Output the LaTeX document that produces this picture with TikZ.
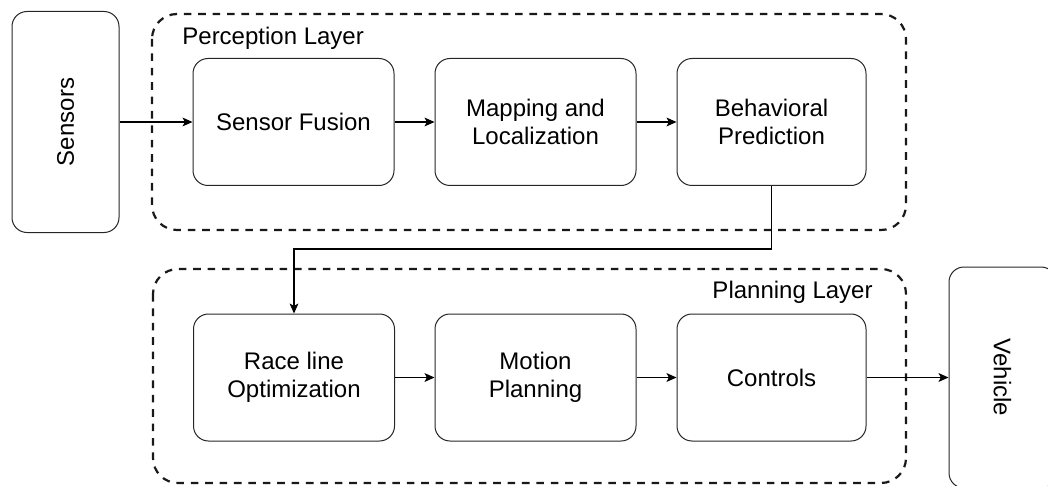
\documentclass[tikz,border=0pt]{standalone}
\usepackage{fontspec}
\setmainfont{Liberation Sans}
\usetikzlibrary{arrows.meta}

\begin{document}
\begin{tikzpicture}[x=0.5pt, y=-0.5pt,
        font=\fontsize{12}{14}\selectfont,
        blk/.style={draw=black!85, line width=0.5pt, rounded corners=7.5pt, align=center,
                    minimum width=100.5pt, minimum height=63.5pt, inner sep=0pt},
        side/.style={draw=black!85, line width=0.5pt, rounded corners=7.5pt,
                     minimum width=110.5pt, minimum height=53.5pt, inner sep=0pt},
        layer/.style={draw=black!90, line width=1.1pt, dash pattern=on 3.8pt off 3.4pt, rounded corners=12.5pt},
        lbl/.style={draw=none, fill=none, inner sep=0pt},
        arr/.style={line width=0.6pt, -{Stealth[length=5pt, width=4.4pt, inset=1.2pt]}}
      ]
  \useasboundingbox (0,0) rectangle (1048,486);

  % layers
  \draw[layer] (152,14) rectangle (906,230);
  \draw[layer] (153,269) rectangle (906,483);
  \node[lbl, anchor=west] (perc) at (182,38) {Perception Layer};
  \node[lbl, anchor=east] (plan) at (873,292) {Planning Layer};

  % outside blocks
  \node[side, rotate=90]  (sens) at (65.5,122)    {Sensors};
  \node[side, rotate=-90] (veh)  at (1002.5,377.5) {Vehicle};

  % perception row
  \node[blk] (fus)  at (293.5,122) {Sensor Fusion};
  \node[blk] (map)  at (535.5,122) {Mapping and\\Localization};
  \node[blk, minimum width=94.5pt] (pred) at (771.5,122) {Behavioral\\Prediction};

  % planning row
  \node[blk] (race) at (294,377.5)   {Race line\\Optimization};
  \node[blk] (mot)  at (535.5,377.5) {Motion\\Planning};
  \node[blk, minimum width=94.5pt] (ctl) at (771.5,377.5) {Controls};

  \coordinate (bend) at (771.5,249);

  \draw[arr] (sens) -- (fus);
  \draw[arr] (fus) -- (map);
  \draw[arr] (map) -- (pred);
  \draw[arr] (pred) -- (bend) -| (race);
  \draw[arr] (race) -- (mot);
  \draw[arr] (mot) -- (ctl);
  \draw[arr] (ctl) -- (veh);

\end{tikzpicture}
\end{document}
